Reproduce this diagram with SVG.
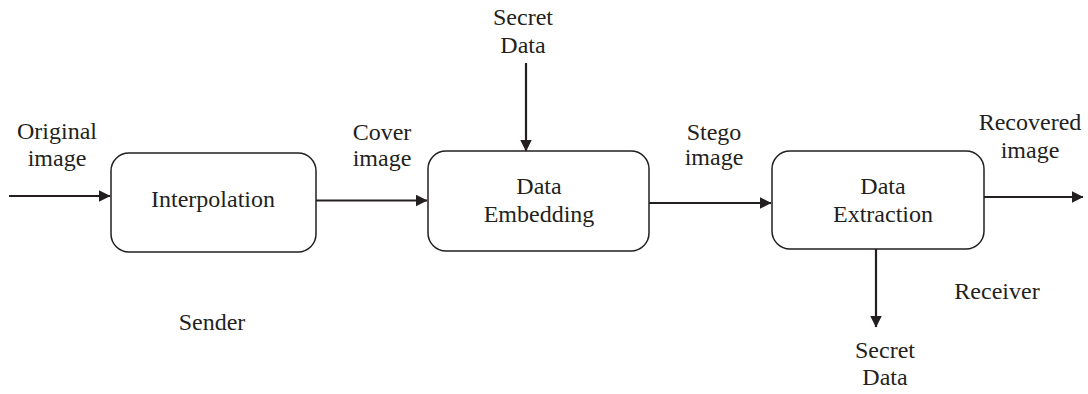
<svg xmlns="http://www.w3.org/2000/svg" width="1088" height="394" viewBox="0 0 1088 394">
<style>
text{font-family:"Liberation Serif","DejaVu Serif","Times New Roman",Times,serif;font-size:24px;fill:#231f20;text-anchor:middle}
.box{fill:#fff;stroke:#231f20;stroke-width:1.5}
.c{stroke:#231f20;stroke-width:2.2;fill:none;marker-end:url(#ah)}
</style>
<defs>
<marker id="ah" viewBox="0 0 12 12" refX="11.5" refY="6" markerWidth="12" markerHeight="12" markerUnits="userSpaceOnUse" orient="auto">
<path d="M0,0 L12,6 L0,12 z" fill="#231f20"/>
</marker>
</defs>
<rect width="1088" height="394" fill="#fff"/>
<g id="connectors">
<line class="c" x1="9" y1="196" x2="110" y2="196"/>
<line class="c" x1="316" y1="200.5" x2="427" y2="200.5"/>
<line class="c" x1="526" y1="63" x2="526" y2="151"/>
<line class="c" x1="649" y1="203" x2="771" y2="203"/>
<line class="c" x1="984" y1="197" x2="1083" y2="197"/>
<line class="c" x1="876" y1="249" x2="876" y2="327"/>
</g>
<g id="interpolation">
<rect class="box" x="111" y="153" width="205" height="99" rx="18"/>
<text x="213" y="207">Interpolation</text>
</g>
<g id="embedding">
<rect class="box" x="428" y="151" width="221" height="100" rx="18"/>
<text x="539" y="194">Data</text>
<text x="539" y="222">Embedding</text>
</g>
<g id="extraction">
<rect class="box" x="772" y="151" width="212" height="98" rx="18"/>
<text x="883" y="194">Data</text>
<text x="883" y="222">Extraction</text>
</g>
<g id="labels">
<text x="57" y="139">Original</text>
<text x="57" y="166">image</text>
<text x="382" y="140">Cover</text>
<text x="382" y="166">image</text>
<text x="523" y="25">Secret</text>
<text x="523" y="53">Data</text>
<text x="714" y="140">Stego</text>
<text x="714" y="165">image</text>
<text x="1030" y="130">Recovered</text>
<text x="1030" y="158">image</text>
<text x="885" y="358">Secret</text>
<text x="885" y="385">Data</text>
<text x="997" y="299">Receiver</text>
<text x="212" y="330">Sender</text>
</g>
</svg>
